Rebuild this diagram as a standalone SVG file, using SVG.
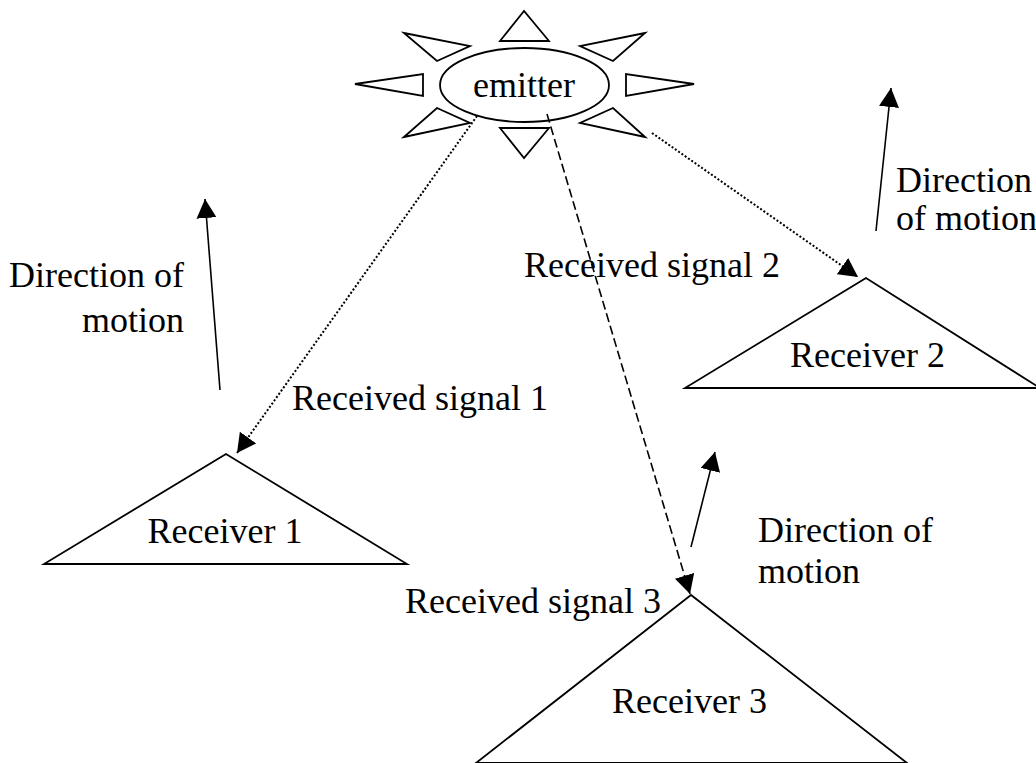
<svg xmlns="http://www.w3.org/2000/svg" width="1036" height="763" viewBox="0 0 1036 763">
<style>
.shape{fill:none;stroke:#000;stroke-width:1.8;stroke-linejoin:miter}
.txt{font-family:"Liberation Serif","Times New Roman",serif;font-size:36px;fill:#000}
.mid{text-anchor:middle}
.end{text-anchor:end}
.line{fill:none;stroke:#000;stroke-width:1.6}
.dot{stroke-width:2;stroke-dasharray:2 2}
.dash{stroke-dasharray:9 4}
</style>
<defs>
<marker id="ah" markerUnits="userSpaceOnUse" markerWidth="20" markerHeight="20" viewBox="0 0 20 20" refX="19" refY="10" orient="auto">
<path d="M0,0 L19,10 L0,20 z" fill="#000"/>
</marker>
</defs>
<rect width="1036" height="763" fill="#fff"/>
<g id="emitter">
<ellipse class="shape" cx="524.5" cy="85" rx="84.5" ry="37"/>
<polygon class="shape" points="524,11 500,41 549,41"/>
<polygon class="shape" points="500,128 549,128 524,158"/>
<polygon class="shape" points="404,33 470,46 437,61"/>
<polygon class="shape" points="645,33 580,46 613,61"/>
<polygon class="shape" points="355,84 423,74 423,96"/>
<polygon class="shape" points="694,84 626,74 626,96"/>
<polygon class="shape" points="404,137 470,123 437,108"/>
<polygon class="shape" points="645,137 580,123 613,108"/>
<text class="txt mid" x="524" y="97">emitter</text>
</g>
<g id="receiver1">
<polygon class="shape" points="226,454 44,564 407,564"/>
<text class="txt mid" x="225" y="543">Receiver 1</text>
</g>
<g id="receiver2">
<polygon class="shape" points="866,278 685,388 1040,388"/>
<text class="txt mid" x="867.5" y="367">Receiver 2</text>
</g>
<g id="receiver3">
<polygon class="shape" points="691,595 476,763 907,763"/>
<text class="txt mid" x="689.5" y="713">Receiver 3</text>
</g>
<g id="connectors">
<line class="line" x1="220" y1="390" x2="205" y2="199" marker-end="url(#ah)"/>
<line class="line" x1="876" y1="231" x2="891" y2="88" marker-end="url(#ah)"/>
<line class="line" x1="691" y1="547" x2="715" y2="452" marker-end="url(#ah)"/>
<line class="line dot" x1="477" y1="116" x2="237" y2="453" marker-end="url(#ah)"/>
<line class="line dot" x1="652" y1="133" x2="858" y2="277" marker-end="url(#ah)"/>
<line class="line dash" x1="547" y1="114" x2="690" y2="594" marker-end="url(#ah)"/>
</g>
<g id="labels">
<text class="txt end" x="184" y="287">Direction of</text>
<text class="txt end" x="184" y="332">motion</text>
<text class="txt" x="896" y="192">Direction</text>
<text class="txt" x="896" y="230">of motion</text>
<text class="txt" x="758" y="542">Direction of</text>
<text class="txt" x="758" y="583">motion</text>
<text class="txt" x="292" y="410">Received signal 1</text>
<text class="txt" x="524" y="277">Received signal 2</text>
<text class="txt" x="405" y="613">Received signal 3</text>
</g>
</svg>
